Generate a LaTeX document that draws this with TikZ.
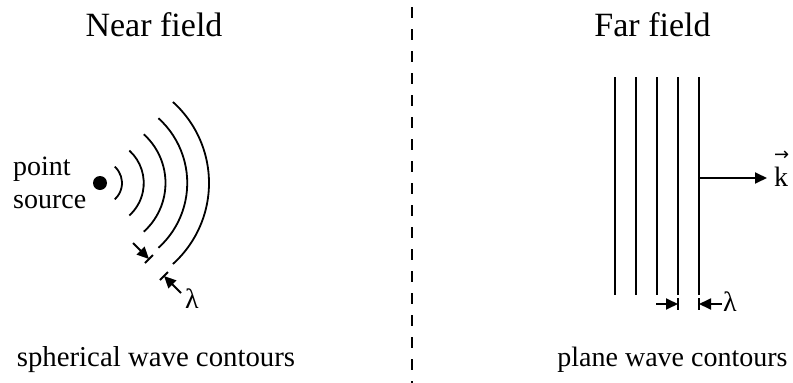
\documentclass[tikz,border=0pt]{standalone}
\usepackage{fontspec}
\setmainfont{Liberation Serif}
\newfontfamily\arrfont{DejaVu Sans}
\usetikzlibrary{arrows.meta}
\tikzset{
  wave/.style={line width=1.8pt},
  tip/.style={line width=1.8pt,-{Triangle[length=12pt,width=11pt]}},
  bar/.style={line width=1.8pt},
  title/.style={font=\fontsize{34}{40}\selectfont,inner sep=0pt,anchor=base},
  label/.style={font=\fontsize{28}{33}\selectfont,inner sep=0pt},
}
\begin{document}
\begin{tikzpicture}[x=1pt,y=-1pt]
\useasboundingbox (0,0) rectangle (793,383);
% titles
\node[title] (tn) at (154,36) {Near field};
\node[title] (tf) at (652.5,36) {Far field};
\node[label,anchor=base,font=\fontsize{28.8}{33}\selectfont] (bn) at (156,366) {spherical wave contours};
\node[label,anchor=base] (bf) at (672.5,366) {plane wave contours};
% divider
\coordinate (d1) at (412,7);
\coordinate (d2) at (412,383);
\draw[line width=2.2pt,dash pattern=on 11pt off 11pt] (d1) -- (d2);
% near field
\node[circle,fill=black,inner sep=0pt,minimum size=14pt] (src) at (100,183) {};
\node[label,anchor=base west] (ps1) at (13,175) {point};
\node[label,anchor=base west] (ps2) at (13,208) {source};
\foreach \r in {22,43.75,65.5,87.25,109}{
  \draw[wave] (src.center) ++(-48:\r) arc[start angle=-48,end angle=48,radius=\r];
}
\coordinate (b1a) at (145,263); \coordinate (b1b) at (153,255);
\coordinate (b2a) at (160,280); \coordinate (b2b) at (168,272);
\draw[bar] (b1a) -- (b1b);
\draw[bar] (b2a) -- (b2b);
\coordinate (a1) at (133,243); \coordinate (a1e) at (149,259);
\coordinate (a2) at (181,293); \coordinate (a2e) at (164,276);
\draw[tip] (a1) -- (a1e);
\draw[tip] (a2) -- (a2e);
\node[label,anchor=center] (lamn) at (192,299) {λ};
% far field
\foreach \i/\x in {1/615,2/636,3/657,4/678,5/699}{
  \coordinate (t\i) at (\x,77);
  \coordinate (u\i) at (\x,295);
  \draw[wave] (t\i) -- (u\i);
}
\coordinate (w5) at (699,178);
\node[label,anchor=base west,inner sep=1pt] (k) at (773,186)
  {\rlap{\raisebox{26pt}{\arrfont\fontsize{18}{18}\selectfont →}}k};
\draw[tip,shorten >=6pt] (w5) -- (w5 -| k.west);
\coordinate (fb1a) at (678,298); \coordinate (fb1b) at (678,310);
\coordinate (fb2a) at (699,298); \coordinate (fb2b) at (699,310);
\draw[bar] (fb1a) -- (fb1b);
\draw[bar] (fb2a) -- (fb2b);
\coordinate (fa1) at (656,304); \coordinate (fa1e) at (678,304);
\coordinate (fa2) at (722,304); \coordinate (fa2e) at (699,304);
\draw[tip] (fa1) -- (fa1e);
\draw[tip] (fa2) -- (fa2e);
\node[label,anchor=west,inner sep=0pt] (lamf) at (723,302) {λ};
\end{tikzpicture}
\end{document}
